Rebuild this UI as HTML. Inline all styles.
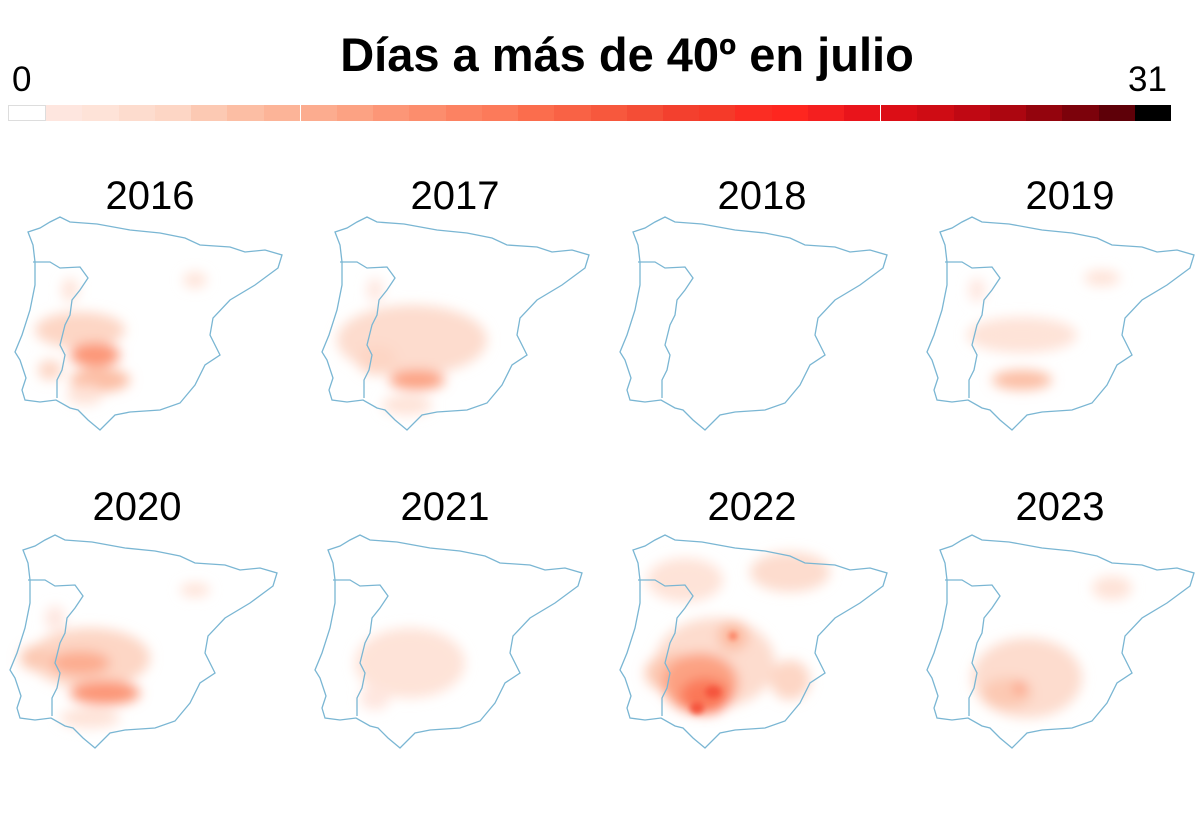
<!DOCTYPE html>
<html><head><meta charset="utf-8"><style>
body{margin:0;background:#fff;width:1200px;height:840px;overflow:hidden;font-family:"Liberation Sans",sans-serif;position:relative}
.t{position:absolute;font-size:40px;color:#000;text-align:center;width:200px}
#bar{position:absolute;left:8px;top:105px;width:1163px;height:16px;display:flex}
#bar div{flex:1}
</style></head><body>
<div style="position:absolute;left:0;width:1254px;top:27px;text-align:center;font-weight:bold;font-size:47px">Días a más de 40º en julio</div>
<div style="position:absolute;left:12px;top:60px;font-size:35px">0</div>
<div style="position:absolute;left:1128px;top:60px;font-size:35px">31</div>
<div id="bar">
<div style="background:#fff;border:1px solid #ddd"></div><div style="background:#fee6df"></div><div style="background:#fee3d8"></div><div style="background:#fddcce"></div><div style="background:#fdd6c5"></div><div style="background:#fcc9b3"></div><div style="background:#fcbea4"></div><div style="background:#fcb498;border-right:1px solid #fff"></div><div style="background:#fcac8f"></div><div style="background:#fca283"></div><div style="background:#fc9677"></div><div style="background:#fc8d6d"></div><div style="background:#fc8262"></div><div style="background:#fc7a5a"></div><div style="background:#fb6d4d"></div><div style="background:#f96245"></div><div style="background:#f7583d"></div><div style="background:#f44d36"></div><div style="background:#f3402e"></div><div style="background:#f53a29"></div><div style="background:#fb2d23"></div><div style="background:#fe261f"></div><div style="background:#f41f1f"></div><div style="background:#e9141b;border-right:1px solid #fff"></div><div style="background:#dc0e16"></div><div style="background:#cf0c14"></div><div style="background:#c00813"></div><div style="background:#ac0610"></div><div style="background:#94040d"></div><div style="background:#7c020b"></div><div style="background:#5e0008"></div><div style="background:#000"></div>
</div>
<div class="t" style="left:50px;top:174px">2016</div>
<div class="t" style="left:355px;top:174px">2017</div>
<div class="t" style="left:662px;top:174px">2018</div>
<div class="t" style="left:970px;top:174px">2019</div>
<div class="t" style="left:37px;top:485px">2020</div>
<div class="t" style="left:345px;top:485px">2021</div>
<div class="t" style="left:652px;top:485px">2022</div>
<div class="t" style="left:960px;top:485px">2023</div>
<svg width="1200" height="840" style="position:absolute;left:0;top:0">
<defs>
<filter id="b" x="-50%" y="-50%" width="200%" height="200%"><feGaussianBlur stdDeviation="6"/></filter>
<filter id="b2" x="-50%" y="-50%" width="200%" height="200%"><feGaussianBlur stdDeviation="3"/></filter>
<g id="m" fill="none" stroke="#7ab6d3" stroke-width="1.3">
<path d="M28,232 L40,228 50,222 60,217 70,222 97,224 130,230 160,233 185,238 200,245 230,247 245,252 265,250 282,255 278,268 255,285 230,300 213,318 210,335 220,355 205,365 195,385 180,403 160,410 130,412 115,415 100,430 88,420 78,410 70,408 56,400 40,402 25,400 22,390 26,378 20,360 15,352 22,335 30,310 35,285 35,262 33,245 Z"/>
<path d="M33,262 L50,262 60,268 80,267 88,278 80,290 72,300 70,315 65,325 60,345 65,355 62,370 57,380 57,398"/>
</g>
</defs>
<g filter="url(#b)">
<ellipse cx="80" cy="330" rx="45" ry="18" fill="#fdd6c5"/>
<ellipse cx="95" cy="355" rx="25" ry="12" fill="#fc9677"/>
<ellipse cx="100" cy="380" rx="30" ry="12" fill="#fcbea4"/>
<ellipse cx="50" cy="370" rx="12" ry="10" fill="#fdd6c5"/>
<ellipse cx="70" cy="290" rx="8" ry="12" fill="#fee3d8"/>
<ellipse cx="195" cy="280" rx="12" ry="8" fill="#fee3d8"/>
<ellipse cx="85" cy="395" rx="18" ry="10" fill="#fee3d8"/>
</g>
<g transform="translate(307,0)" filter="url(#b)">
<ellipse cx="105" cy="340" rx="75" ry="35" fill="#fddcce"/>
<ellipse cx="110" cy="380" rx="28" ry="10" fill="#fca283"/>
<ellipse cx="70" cy="360" rx="20" ry="15" fill="#fdd6c5"/>
<ellipse cx="100" cy="405" rx="25" ry="10" fill="#fee3d8"/>
<ellipse cx="68" cy="290" rx="8" ry="12" fill="#fee6df"/>
</g>
<g transform="translate(912,0)" filter="url(#b)">
<ellipse cx="110" cy="335" rx="55" ry="18" fill="#fee3d8"/>
<ellipse cx="110" cy="380" rx="30" ry="10" fill="#fcbea4"/>
<ellipse cx="190" cy="278" rx="18" ry="8" fill="#fee3d8"/>
<ellipse cx="65" cy="290" rx="8" ry="12" fill="#fee6df"/>
</g>
<g transform="translate(-5,318)" filter="url(#b)">
<ellipse cx="95" cy="340" rx="60" ry="30" fill="#fdd6c5"/>
<ellipse cx="85" cy="345" rx="30" ry="12" fill="#fcac8f"/>
<ellipse cx="110" cy="375" rx="35" ry="12" fill="#fc9677"/>
<ellipse cx="40" cy="340" rx="15" ry="12" fill="#fcc9b3"/>
<ellipse cx="95" cy="400" rx="30" ry="10" fill="#fee3d8"/>
<ellipse cx="200" cy="272" rx="15" ry="7" fill="#fee3d8"/>
<ellipse cx="60" cy="300" rx="10" ry="12" fill="#fee6df"/>
</g>
<g transform="translate(300,318)" filter="url(#b)">
<ellipse cx="110" cy="345" rx="55" ry="35" fill="#fee3d8"/>
<ellipse cx="75" cy="380" rx="15" ry="12" fill="#fee6df"/>
</g>
<g transform="translate(605,318)">
<g filter="url(#b)">
<ellipse cx="185" cy="254" rx="40" ry="20" fill="#fddcce"/>
<ellipse cx="80" cy="262" rx="38" ry="22" fill="#fee3d8"/>
<ellipse cx="110" cy="345" rx="60" ry="45" fill="#fddcce"/>
<ellipse cx="185" cy="362" rx="20" ry="20" fill="#fdd6c5"/>
<ellipse cx="128" cy="318" rx="15" ry="15" fill="#fcbea4"/>
<ellipse cx="70" cy="355" rx="30" ry="20" fill="#fcc9b3"/>
<ellipse cx="95" cy="365" rx="38" ry="30" fill="#fca283"/>
<ellipse cx="100" cy="378" rx="25" ry="18" fill="#fb7858"/>
</g>
<g filter="url(#b2)">
<ellipse cx="108" cy="374" rx="8" ry="6" fill="#f5553c"/>
<ellipse cx="92" cy="390" rx="7" ry="6" fill="#f5553c"/>
<ellipse cx="128" cy="318" rx="4" ry="4" fill="#fb7858"/>
</g>
</g>
<g transform="translate(912,318)" filter="url(#b)">
<ellipse cx="115" cy="360" rx="55" ry="40" fill="#fddcce"/>
<ellipse cx="95" cy="375" rx="25" ry="15" fill="#fcc9b3"/>
<ellipse cx="108" cy="370" rx="6" ry="6" fill="#fc9677"/>
<ellipse cx="200" cy="270" rx="20" ry="12" fill="#fee3d8"/>
</g>
<use href="#m"/>
<use href="#m" x="307"/>
<use href="#m" x="605"/>
<use href="#m" x="912"/>
<use href="#m" x="-5" y="318"/>
<use href="#m" x="300" y="318"/>
<use href="#m" x="605" y="318"/>
<use href="#m" x="912" y="318"/>
</svg>
</body></html>
